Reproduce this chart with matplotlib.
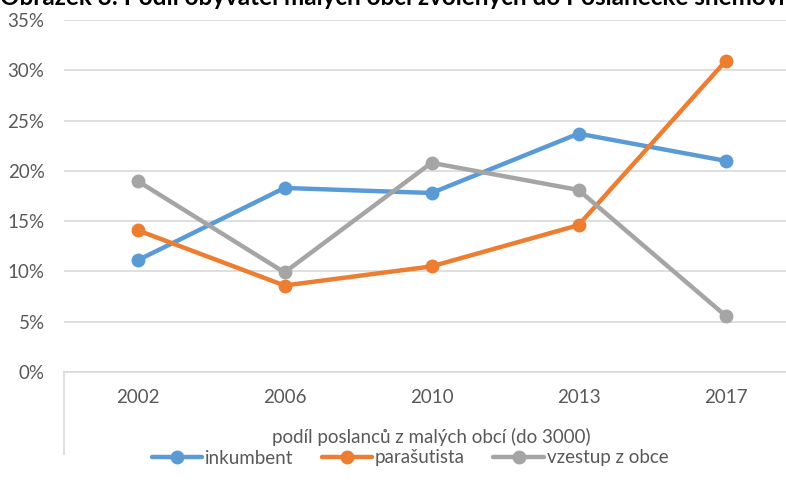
import matplotlib.pyplot as plt
import numpy as np

years = ['2002', '2006', '2010', '2013', '2017']
inkumbent = [11.1, 18.3, 17.8, 23.7, 21.0]
parasutista = [14.1, 8.6, 10.5, 14.6, 30.9]
vzestup = [19.0, 9.9, 20.8, 18.1, 5.6]
yticks = [0, 5, 10, 15, 20, 25, 30, 35]

W, H = 786, 493
fig = plt.figure(figsize=(W / 100, H / 100), dpi=100)
plt.rcParams['font.family'] = ['Lato', 'DejaVu Sans']
fs = 13.5
grey = '#595959'

# axes placed in pixel terms (right edge runs past the figure like in the original)
left, right, top, bottom = 64, 799, 20, 372
ax = fig.add_axes([left / W, (H - bottom) / H, (right - left) / W, (bottom - top) / H])

x = np.arange(len(years))
series = [(inkumbent, '#5B9BD5', 'inkumbent'),
          (parasutista, '#ED7D31', 'parašutista'),
          (vzestup, '#A5A5A5', 'vzestup z obce')]
for vals, col, lab in series:
    ax.plot(x, vals, color=col, lw=3.2, marker='o', ms=9, label=lab, solid_capstyle='round')

ax.set_xlim(-0.5, len(years) - 0.5)
ax.set_ylim(0, 35)
ax.set_yticks(yticks)
ax.set_yticklabels(['%d%%' % v for v in yticks])
ax.set_xticks(x)
ax.set_xticklabels(years)
ax.tick_params(axis='y', length=0, pad=14, labelsize=fs, labelcolor=grey)
ax.tick_params(axis='x', length=0, pad=12, labelsize=fs, labelcolor=grey)
ax.grid(axis='y', color='#D9D9D9', lw=1.2)
ax.set_axisbelow(True)
for s in ['top', 'right', 'left']:
    ax.spines[s].set_visible(False)
ax.spines['bottom'].set_color('#D9D9D9')
ax.spines['bottom'].set_linewidth(1.2)

# category group line on the left
ax.plot([0, 0], [0, -(454 - 372) / (bottom - top)], transform=ax.transAxes,
        color='#D9D9D9', lw=1.2, clip_on=False)

fig.text((left + right) / 2 / W, 1 - 437 / H, 'podíl poslanců z malých obcí (do 3000)',
         ha='center', va='center', fontsize=fs, color=grey)

fig.legend(loc='center', bbox_to_anchor=(410 / W, 1 - 458 / H), ncol=3, frameon=False,
           fontsize=fs, labelcolor=grey, handlelength=2.7, handletextpad=0.15,
           columnspacing=1.5)

# title, cut off at the top edge as in the source image
fig.text(0, 1 - 5 / H, 'Obrázek 3: Podíl obyvatel malých obcí zvolených do Poslanecké sněmovny',
         ha='left', va='baseline', fontsize=17.5, fontweight='bold', color='black')

fig.savefig('out.png', dpi=100)
